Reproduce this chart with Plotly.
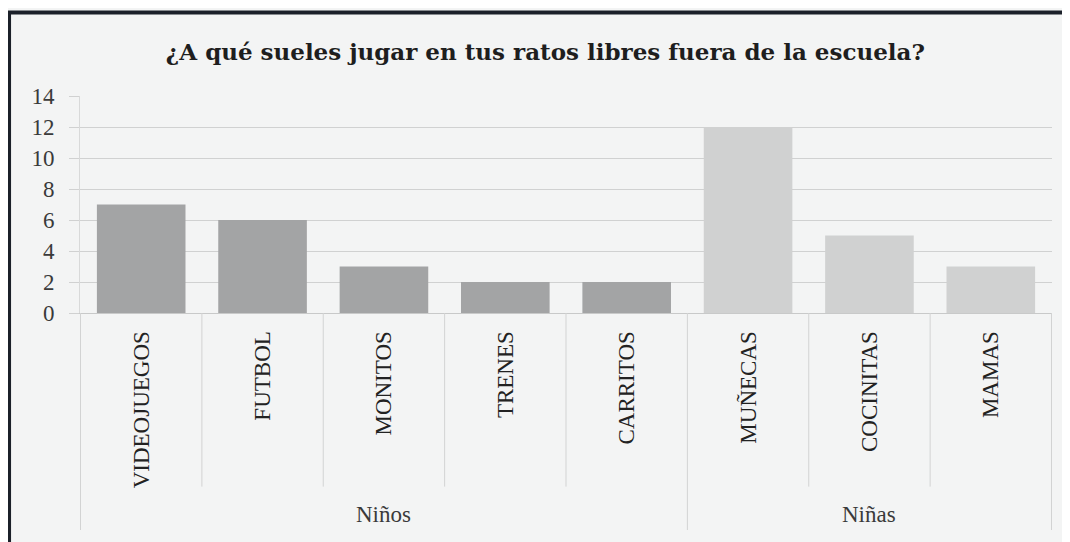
import plotly.graph_objects as go

# ---- data ----
groups = ["Niños", "Niños", "Niños", "Niños", "Niños", "Niñas", "Niñas", "Niñas"]
categories = ["VIDEOJUEGOS", "FUTBOL", "MONITOS", "TRENES", "CARRITOS",
              "MUÑECAS", "COCINITAS", "MAMAS"]
values = [7, 6, 3, 2, 2, 12, 5, 3]
group_names = ["Niños", "Niñas"]
y_ticks = [0, 2, 4, 6, 8, 10, 12, 14]
title_text = "¿A qué sueles jugar en tus ratos libres fuera de la escuela?"

# ---- styles ----
group_colors = {"Niños": "#a3a4a5", "Niñas": "#d0d1d1"}
bg = "#f3f4f4"
serif = "Liberation Serif, Times New Roman, serif"
sep_color = "#d2d3d3"
grid_color = "#d0d1d1"

# The page body adds an 8px offset; the figure is sized to fill the rest.
fig = go.Figure()
fig.add_trace(go.Bar(
    x=categories, y=values,
    marker=dict(color=[group_colors[g] for g in groups], line=dict(width=0)),
    width=0.73, showlegend=False,
))

shapes = []
n = len(categories)
for i in range(n + 1):
    pos = i - 0.5
    is_group_edge = (i == 0 or i == n or groups[i - 1] != groups[i])
    shapes.append(dict(type="line", xref="x", yref="paper", x0=pos, x1=pos,
                       y0=0, y1=-1.0 if is_group_edge else -0.80,
                       line=dict(color=sep_color, width=1)))

# chart frame (scanned border)
shapes.append(dict(type="path", xref="paper", yref="paper",
                   path="M -0.073,-1.5 L -0.073,1.385 L 1.03,1.385",
                   line=dict(color="#1b2029", width=4)))

annotations = []
for gname in group_names:
    idx = [i for i, g in enumerate(groups) if g == gname]
    center = (idx[0] + idx[-1]) / 2
    annotations.append(dict(x=center, xref="x", y=-0.93, yref="paper",
                            text=gname, showarrow=False,
                            font=dict(family=serif, size=23, color="#3a3a3a"),
                            yanchor="middle"))

fig.update_layout(
    width=1062, height=534,
    margin=dict(l=72, r=18, t=88, b=229),
    paper_bgcolor=bg, plot_bgcolor=bg,
    title=dict(text=title_text, x=0.506, xanchor="center", y=0.918, yref="container",
               yanchor="middle",
               font=dict(family="DejaVu Serif, serif", size=23, color="#1e1e1e",
                         weight="bold")),
    shapes=shapes, annotations=annotations,
)
fig.update_xaxes(
    type="category", tickangle=-90,
    tickfont=dict(family=serif, size=23, color="#222"),
    showgrid=False, ticks="", ticklabelstandoff=8,
    showline=True, linecolor="#c8c9c9", linewidth=1,
)
fig.update_yaxes(
    range=[0, 14], tickvals=y_ticks,
    tickfont=dict(family=serif, size=23, color="#3a3a3a"),
    showgrid=True, gridcolor=grid_color, gridwidth=1,
    zeroline=False, showline=True, linecolor="#d8d9d9",
    ticks="outside", ticklen=10, tickcolor=grid_color,
    ticklabelstandoff=10,
)

fig.write_html("out.html")
